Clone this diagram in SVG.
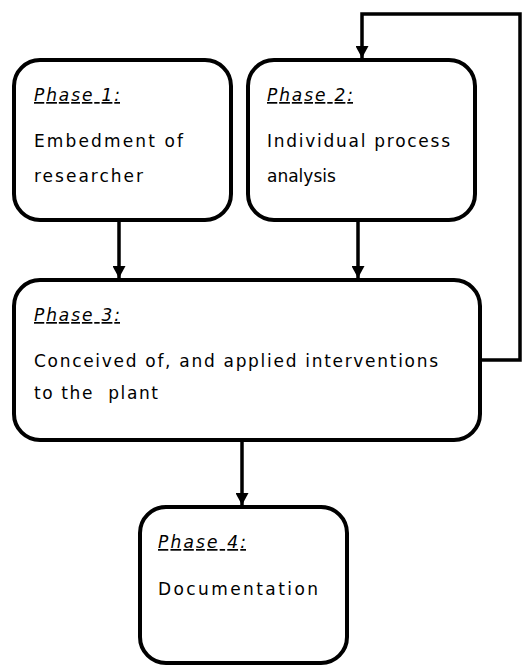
<svg xmlns="http://www.w3.org/2000/svg" width="532" height="665" viewBox="0 0 532 665">
<style>
.box{fill:#fff;stroke:#000;stroke-width:4}
.t{font-family:"DejaVu Sans","Liberation Sans",sans-serif;font-size:17px;fill:#000}
.h{font-style:italic;text-decoration:underline}
.c{fill:none;stroke:#000;stroke-width:3.5}
</style>
<defs>
<marker id="ah" markerWidth="12" markerHeight="13" refX="12" refY="6.5" orient="auto" markerUnits="userSpaceOnUse">
<path d="M0,0 L12,6.5 L0,13 Z" fill="#000"/>
</marker>
</defs>
<g id="connectors">
<path class="c" d="M119,221 V278" marker-end="url(#ah)"/>
<path class="c" d="M358,221 V278" marker-end="url(#ah)"/>
<path class="c" d="M242,441 V505" marker-end="url(#ah)"/>
<path class="c" d="M481,360 H520 V14 H362 V58" marker-end="url(#ah)"/>
</g>
<g id="phase1">
<rect class="box" x="14" y="60" width="217" height="160" rx="26"/>
<text class="t h" x="34" y="101" textLength="86">Phase 1:</text>
<text class="t" x="34" y="147" textLength="149">Embedment of</text>
<text class="t" x="34" y="182" textLength="109">researcher</text>
</g>
<g id="phase2">
<rect class="box" x="248" y="60" width="227" height="160" rx="26"/>
<text class="t h" x="267" y="101" textLength="86">Phase 2:</text>
<text class="t" x="267" y="147" textLength="183">Individual process</text>
<text class="t" x="267" y="182">analysis</text>
</g>
<g id="phase3">
<rect class="box" x="14" y="280" width="466" height="160" rx="26"/>
<text class="t h" x="34" y="321" textLength="86">Phase 3:</text>
<text class="t" x="34" y="367" textLength="404">Conceived of, and applied interventions</text>
<text class="t" x="34" y="399" textLength="124" xml:space="preserve">to the  plant</text>
</g>
<g id="phase4">
<rect class="box" x="140" y="507" width="207" height="156" rx="26"/>
<text class="t h" x="158" y="548" textLength="88">Phase 4:</text>
<text class="t" x="158" y="595" textLength="160">Documentation</text>
</g>
</svg>
